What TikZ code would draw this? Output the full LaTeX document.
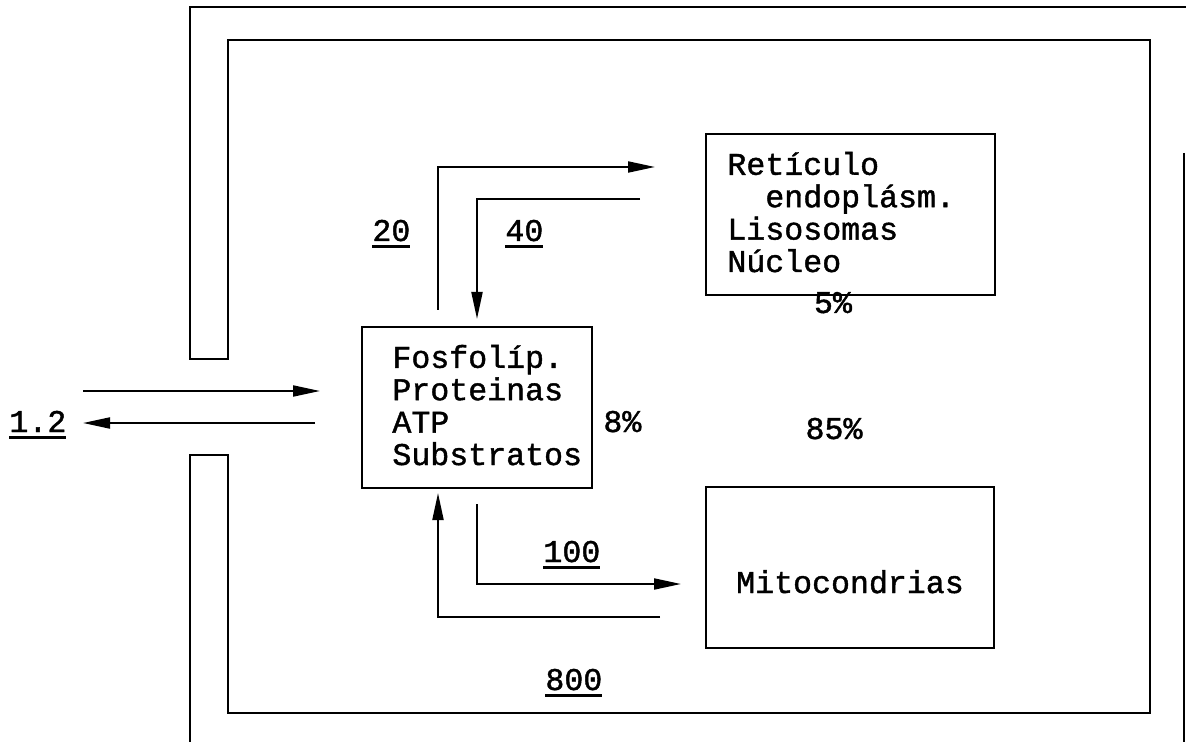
\documentclass[tikz,border=0pt]{standalone}
\usepackage{fontspec}
\setmonofont{Liberation Mono}[RawFeature={embolden=1.3}]
\usetikzlibrary{arrows.meta}
\newcommand\ulnum[1]{\setbox0\hbox{#1}\rlap{\rule[-3.6pt]{\wd0}{1.4pt}}#1}
\begin{document}
\begin{tikzpicture}[x=0.5pt,y=-0.5pt,
  wall/.style={line width=1.4pt, line join=miter},
  box/.style={draw, line width=1.3pt, inner sep=0pt},
  txt/.style={font=\ttfamily\fontsize{15.8}{16.2}\selectfont, inner sep=0pt, align=left},
  flow/.style={line width=1pt, -{Triangle[length=13.5pt,width=5.5pt]}},
  plain/.style={line width=1pt}]
\useasboundingbox (0,0) rectangle (1186,742);
% walls
\draw[wall] (1186,7) -- (190,7) -- (190,359) -- (228,359) -- (228,40) -- (1150,40)
  -- (1150,713) -- (228,713) -- (228,455) -- (190,455) -- (190,742);
\draw[wall] (1184,153) -- (1184,742);
% boxes
\node[box, minimum width=115pt, minimum height=80.5pt] (fos) at (477,407.5) {};
\node[box, minimum width=144.5pt, minimum height=80.5pt] (re) at (850.5,214.5) {};
\node[box, minimum width=144pt, minimum height=80.5pt] (mito) at (850,567.5) {};
% box texts (base = baseline of last line)
\node[txt, anchor=base west] (fosT) at (392,465) {Fosfolíp.\\Proteinas\\ATP\\Substratos};
\node[txt, anchor=base west] (reT) at (727,272) {Retículo\\\phantom{xx}endoplásm.\\Lisosomas\\Núcleo};
\node[txt, anchor=base] (mitoT) at (850,593) {Mitocondrias};
% percentages
\node[txt, anchor=base west] (p8) at (603,432) {8\%};
\node[txt, anchor=base] (p5) at (833,313) {5\%};
\node[txt, anchor=base] (p85) at (834,439) {85\%};
% flow numbers
\node[txt, anchor=base west] (n12) at (9,432) {\ulnum{1.2}};
\node[txt, anchor=base west] (n20) at (372,241) {\ulnum{20}};
\node[txt, anchor=base west] (n40) at (505,241) {\ulnum{40}};
\node[txt, anchor=base west] (n100) at (543,562) {\ulnum{100}};
\node[txt, anchor=base west] (n800) at (545,690) {\ulnum{800}};
% connector end points
\coordinate (inS) at (83,391);
\coordinate (inE) at (320,391);
\coordinate (outS) at (315,423);
\coordinate (outE) at (83,423);
\coordinate (a20s) at (438,310);
\coordinate (a20e) at (655,167);
\coordinate (a40s) at (640,199);
\coordinate (a40e) at (477,319);
\coordinate (a100s) at (477,504);
\coordinate (a100e) at (681,584);
\coordinate (rets) at (660,617);
\coordinate (rete) at (438,493);
% connectors
\draw[flow] (inS) -- (inE);
\draw[flow] (outS) -- (outE);
\draw[flow] (a20s) |- (a20e);
\draw[flow] (a40s) -| (a40e);
\draw[flow] (a100s) |- (a100e);
\draw[flow] (rets) -| (rete);
\end{tikzpicture}
\end{document}
